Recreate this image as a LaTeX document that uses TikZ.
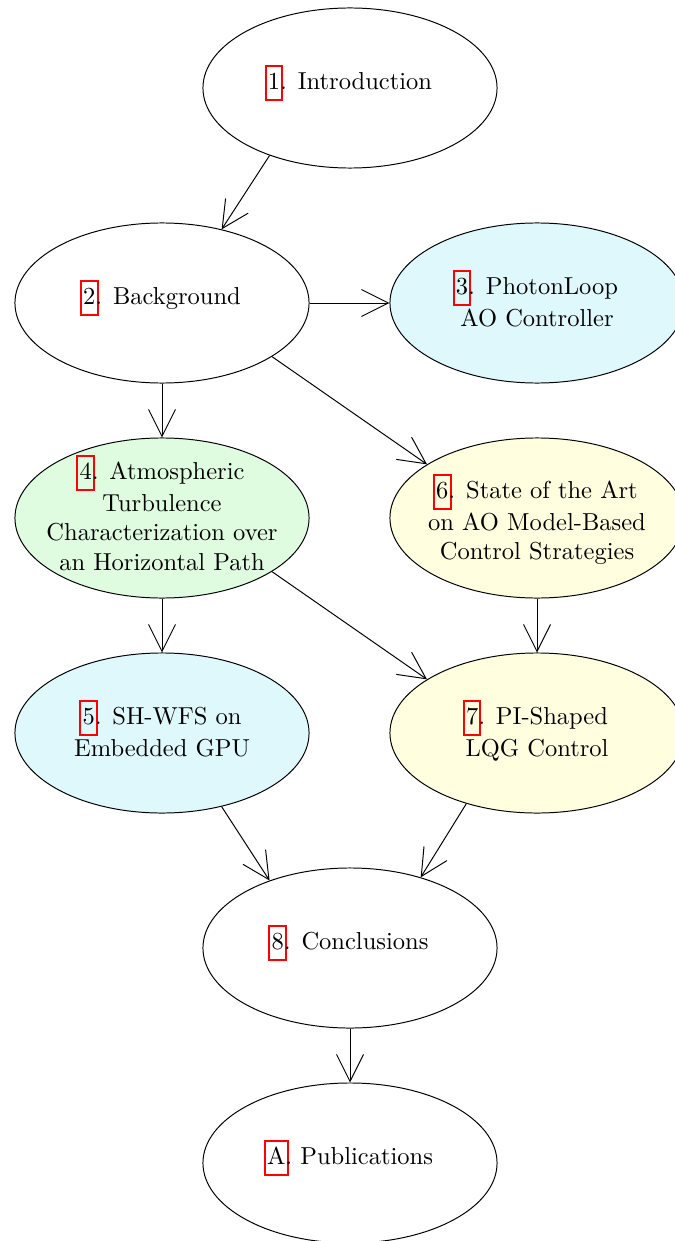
\documentclass[tikz,border=0pt]{standalone}
\usetikzlibrary{arrows.meta,shapes.geometric}
\definecolor{fcyan}{RGB}{222,248,252}
\definecolor{fgreen}{RGB}{224,252,224}
\definecolor{fyellow}{RGB}{255,255,224}
\newcommand\lnk[1]{\leavevmode\sbox0{#1}\rlap{\kern-1.3pt\color{red}\fboxsep=0pt\fboxrule=0.8pt\fbox{\rule[-3.8pt]{0pt}{13pt}\kern\dimexpr\wd0+1pt\relax}}#1}
\newsavebox\txbox
\newcommand\tx[2][0pt]{\sbox\txbox{\begin{tabular}{@{}c@{}}#2\end{tabular}}\raisebox{#1}[\ht\txbox][\dp\txbox]{\usebox\txbox}}
\tikzset{
  chap/.style={ellipse, draw=black, line width=0.4pt, minimum width=120pt, minimum height=65.3pt, inner sep=-10pt, font=\normalsize},
  arr/.style={-{Straight Barb[length=11pt,width=11pt,line width=0.4pt]}, line width=0.4pt}
}
\begin{document}
\begin{tikzpicture}[x=0.408pt,y=-0.408pt]
\useasboundingbox (0,0) rectangle (675,1241);
\node[chap] (n1) at (350,88) {\tx[2pt]{\lnk{1}. Introduction}};
\node[chap] (n2) at (162,303) {\tx[2pt]{\lnk{2}. Background}};
\node[chap, fill=fcyan] (n3) at (537,303) {\tx{\lnk{3}. PhotonLoop\\AO Controller}};
\node[chap, fill=fgreen] (n4) at (162,518) {\tx[0.4pt]{\lnk{4}. Atmospheric\\Turbulence\\Characterization over\\an Horizontal Path}};
\node[chap, fill=fyellow] (n6) at (537,518) {\tx[-1.4pt]{\lnk{6}. State of the Art\\on AO Model-Based\\Control Strategies}};
\node[chap, fill=fcyan] (n5) at (162,733) {\tx{\lnk{5}. SH-WFS on\\Embedded GPU}};
\node[chap, fill=fyellow] (n7) at (537,733) {\tx{\lnk{7}. PI-Shaped\\LQG Control}};
\node[chap] (n8) at (350,948) {\tx[2pt]{\lnk{8}. Conclusions}};
\node[chap] (nA) at (350,1163) {\tx[2pt]{\lnk{A}. Publications}};
\draw[arr] (n1.220) -- (n2.51);
\draw[arr] (n2.east) -- (n3.west);
\draw[arr] (n2.south) -- (n4.north);
\draw[arr] (n2.-26) -- (n6.154);
\draw[arr] (n4.south) -- (n5.north);
\draw[arr] (n4.-26) -- (n7.154);
\draw[arr] (n6.south) -- (n7.north);
\draw[arr] (n5.-51) -- (n8.140);
\draw[arr] (n7.225) -- (n8.45);
\draw[arr] (n8.south) -- (nA.north);
\end{tikzpicture}
\end{document}
